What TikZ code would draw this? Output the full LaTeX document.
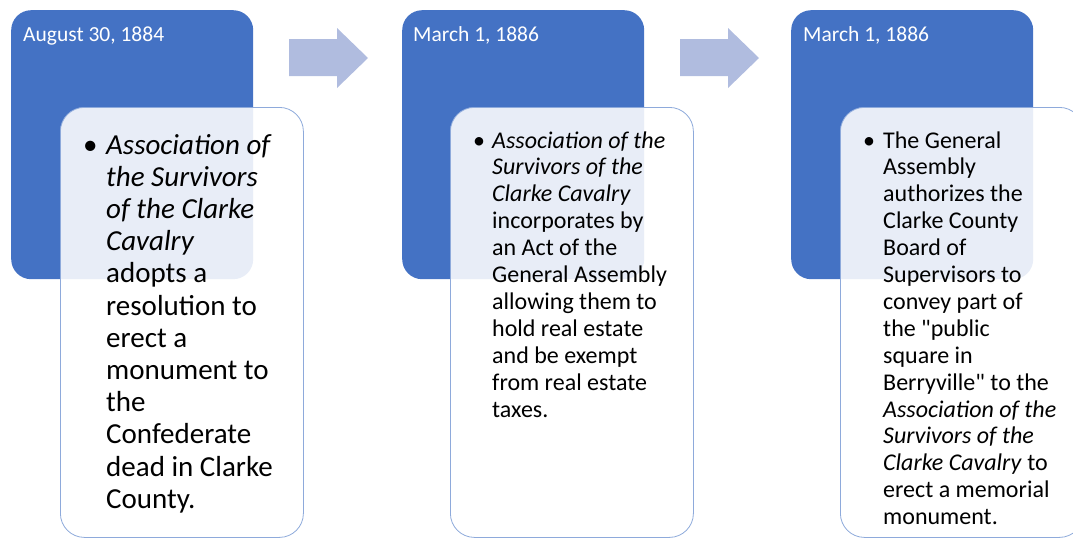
\documentclass[tikz,border=0pt]{standalone}
\usepackage{fontspec}
\newfontfamily\carlito{Carlito}
\usetikzlibrary{positioning}
\definecolor{dateblue}{HTML}{4472C4}
\definecolor{arrowfill}{HTML}{B0BCDF}
\definecolor{edgeblue}{HTML}{8EAADB}
\newcommand{\bulleted}[2]{\makebox[#1][l]{\textbullet}\begin{tabular}[t]{@{}l@{}}#2\end{tabular}}

\begin{document}
\begin{tikzpicture}[x=1pt,y=-1pt,
    datebox/.style={fill=dateblue, rounded corners=20pt, anchor=north west,
        minimum width=242pt, minimum height=269pt, inner sep=0pt},
    notebox/.style={draw=edgeblue, line width=0.8pt, fill=white, fill opacity=0.88,
        rounded corners=24pt, anchor=north west,
        minimum width=243pt, minimum height=430pt, inner sep=0pt},
    datetext/.style={text=white, anchor=base west, inner sep=0pt,
        font=\carlito\fontsize{21.5}{24}\selectfont},
    notetext/.style={anchor=base west, inner sep=0pt},
]
\clip (0,0) rectangle (1073,544);

% dates
\node[datebox] (d1) at (11,10) {};
\node[datebox] (d2) at (402,10) {};
\node[datebox] (d3) at (791,10) {};
\node[datetext] (t1) at (23,41) {August 30, 1884};
\node[datetext] (t2) at (413,41) {March 1, 1886};
\node[datetext] (t3) at (803,41) {March 1, 1886};

% arrows
\foreach \dx in {0,391}
  \fill[arrowfill, shift={(\dx,0)}] (289,39) -- (337,39) -- (337,28) -- (368,58)
    -- (337,88) -- (337,76) -- (289,76) -- cycle;

% notes
\node[notebox] (n1) at (60,107) {};
\node[notebox] (n2) at (450,107) {};
\node[notebox] (n3) at (840,107) {};

\node[notetext, font=\carlito\fontsize{29}{32.2}\selectfont] (b1) at (83,154)
  {\bulleted{23pt}{\textit{Association of}\\ \textit{the Survivors}\\ \textit{of the Clarke}\\
   \textit{Cavalry}\\ adopts a\\ resolution to\\ erect a\\ monument to\\ the\\ Confederate\\
   dead in Clarke\\ County.}};
\node[notetext, font=\carlito\fontsize{24}{26.9}\selectfont] (b2) at (473,148)
  {\bulleted{19pt}{\textit{Association of the}\\ \textit{Survivors of the}\\ \textit{Clarke Cavalry}\\
   incorporates by\\ an Act of the\\ General Assembly\\ allowing them to\\ hold real estate\\
   and be exempt\\ from real estate\\ taxes.}};
\node[notetext, font=\carlito\fontsize{24}{26.9}\selectfont] (b3) at (863,148)
  {\bulleted{20pt}{The General\\ Assembly\\ authorizes the\\ Clarke County\\ Board of\\
   Supervisors to\\ convey part of\\ the "public\\ square in\\ Berryville" to the\\
   \textit{Association of the}\\ \textit{Survivors of the}\\ \textit{Clarke Cavalry} to\\
   erect a memorial\\ monument.}};
\end{tikzpicture}
\end{document}
